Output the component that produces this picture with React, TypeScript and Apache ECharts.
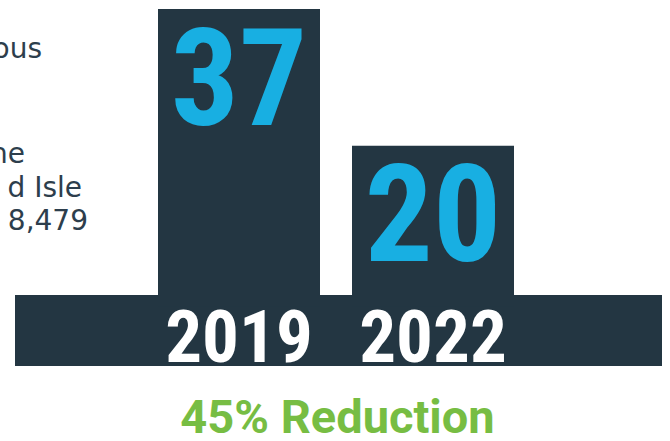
import React, { useEffect, useRef } from "react";
import * as echarts from "echarts";

const years = ["2019", "2022"];
const counts = [37, 20];
const sideLines = ["ous", "he", "d Isle", "8,479"];
const summary = "45% Reduction";

const NAVY = "#233642";
const BLUE = "#18afe2";
const GREEN = "#77bd43";
const NARROW = '"Liberation Sans Narrow", "Roboto Condensed", Roboto, sans-serif';

export default function App() {
  const ref = useRef<HTMLDivElement>(null);
  useEffect(() => {
    document.body.style.margin = "0";
    if (!ref.current) return;
    const chart = echarts.init(ref.current, undefined, { renderer: "svg" });
    const sidePos = [
      { x: 42, y: 48.5 },
      { x: 25, y: 153.5 },
      { x: 82, y: 187.5 },
      { x: 88, y: 220.5 },
    ];
    chart.setOption({
      animation: false,
      backgroundColor: "#ffffff",
      grid: { left: 142, right: 140, top: 9, bottom: 134.5, containLabel: false },
      xAxis: {
        type: "category",
        data: years,
        z: 10,
        axisLine: { show: false },
        axisTick: { show: false },
        splitLine: { show: false },
        axisLabel: {
          color: "#ffffff",
          fontFamily: NARROW,
          fontWeight: "bold",
          fontSize: 73,
          margin: -6,
        },
      },
      yAxis: { type: "value", min: 0, max: 37, show: false },
      series: [
        {
          type: "bar",
          data: counts,
          barWidth: 162,
          z: 2,
          itemStyle: { color: NAVY },
          label: {
            show: true,
            position: "insideTop",
            distance: 2,
            color: BLUE,
            fontFamily: NARROW,
            fontWeight: "bold",
            fontSize: 135,
          },
        },
      ],
      graphic: [
        {
          type: "rect",
          z: 1,
          shape: { x: 15, y: 295, width: 647, height: 71 },
          style: { fill: NAVY },
        },
        ...sideLines.map((t, i) => ({
          type: "text",
          x: sidePos[i].x,
          y: sidePos[i].y,
          style: {
            text: t,
            fill: "#2d3e4c",
            font: '28px "DejaVu Sans"',
            textAlign: "right",
            textVerticalAlign: "middle",
          },
        })),
        {
          type: "text",
          x: 337.5,
          y: 416,
          style: {
            text: summary,
            fill: GREEN,
            font: 'bold 47px Roboto',
            textAlign: "center",
            textVerticalAlign: "middle",
          },
        },
      ],
    });
    return () => chart.dispose();
  }, []);
  return <div ref={ref} style={{ width: 670, height: 441 }} />;
}
